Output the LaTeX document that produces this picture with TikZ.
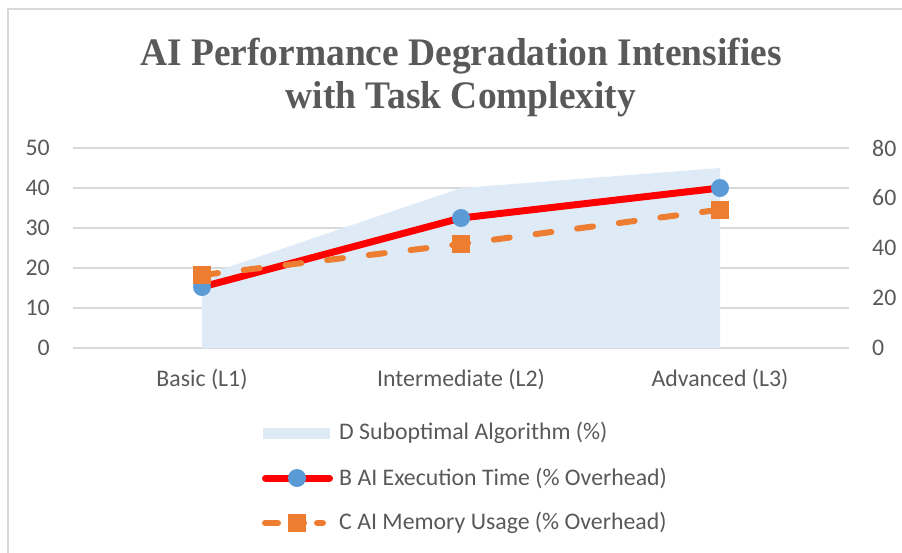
\documentclass[tikz,border=0pt]{standalone}
\usepackage{fontspec}
\newfontfamily\chartfont{Carlito}
\newfontfamily\headfont{Liberation Serif}
\usetikzlibrary{positioning}
\definecolor{txtgray}{HTML}{595959}
\definecolor{gridgray}{HTML}{D9D9D9}
\definecolor{areablue}{HTML}{DEEBF7}
\definecolor{markblue}{HTML}{5B9BD5}
\definecolor{memorange}{HTML}{ED7D31}

\begin{document}
\begin{tikzpicture}[
  x=1pt, y=-1pt,
  tick/.style={font=\chartfont\fontsize{23.8}{28}\selectfont, text=txtgray, inner sep=0pt},
  headline/.style={font=\headfont\bfseries\fontsize{39}{43}\selectfont, text=txtgray, inner sep=0pt, anchor=base},
  gridline/.style={gridgray, line width=1.5pt},
  execline/.style={red, line width=7pt, line join=round},
  memline/.style={memorange, line width=6pt, line cap=round, dash pattern=on 16pt off 26pt},
  dot/.style={circle, fill=markblue, minimum size=18pt, inner sep=0pt},
  sqmark/.style={rectangle, fill=memorange, minimum size=18pt, inner sep=0pt},
  legtext/.style={tick, anchor=west}
]
  \useasboundingbox (0,0) rectangle (902,552);

  % Frame
  \draw[gridgray, line width=2pt] (8,556) -- (8,9) -- (906,9);

  % Title
  \node[headline] (title1) at (461,65) {\scalebox{0.96}[1]{AI Performance Degradation Intensifies}};
  \node[headline] (title2) at (461,108) {\scalebox{0.96}[1]{with Task Complexity}};

  % Axes and grid
  \foreach \v [count=\i from 0] in {0,10,...,50} {
    \draw[gridline] (73,{348-4*\v}) -- (849,{348-4*\v});
    \node[tick, anchor=east] (yl\i) at (50,{348-4*\v}) {\v};
  }
  \foreach \v [count=\i from 0] in {0,20,...,80}
    \node[tick, anchor=west] (yr\i) at (872,{348-2.5*\v}) {\v};

  \node[tick, anchor=base] (catA) at (202,386) {Basic (L1)};
  \node[tick, anchor=base] (catB) at (461,386) {Intermediate (L2)};
  \node[tick, anchor=base] (catC) at (720,386) {Advanced (L3)};

  % Data (left axis units)
  \begin{scope}[shift={(0,348)}, y=4pt]
    \coordinate (d1) at (202,18);
    \coordinate (d2) at (461,40);
    \coordinate (d3) at (720,45);
    \coordinate (b1) at (202,15.25);
    \coordinate (b2) at (461,32.5);
    \coordinate (b3) at (720,40);
    \coordinate (c1) at (202,18.25);
    \coordinate (c2) at (461,26);
    \coordinate (c3) at (720,34.6);
    \coordinate (z1) at (202,0);
    \coordinate (z3) at (720,0);
  \end{scope}

  \fill[areablue] (z1) -- (d1) -- (d2) -- (d3) -- (z3) -- cycle;
  \draw[execline] (b1) -- (b2) -- (b3);
  \foreach \p in {b1,b2,b3}
    \node[dot] (m\p) at (\p) {};
  \draw[memline] (c1) -- (c2) -- (c3);
  \foreach \p in {c1,c2,c3}
    \node[sqmark] (m\p) at (\p) {};

  % Legend
  \node[legtext] (legD) at (339,433) {D Suboptimal Algorithm (\%)};
  \node[legtext, below=45pt of legD.west, anchor=west] (legB) {B AI Execution Time (\% Overhead)};
  \node[legtext, below=45pt of legB.west, anchor=west] (legC) {C AI Memory Usage (\% Overhead)};

  \node[fill=areablue, minimum width=67pt, minimum height=11pt, inner sep=0pt, left=9pt of legD] (keyD) {};
  \draw[execline, line cap=round] ([xshift=-73.5pt]legB.west) -- ([xshift=-9.5pt]legB.west);
  \node[dot] (keyB) at ([xshift=-42pt]legB.west) {};
  \draw[memline, dash pattern=on 13pt off 13pt] ([xshift=-74pt]legC.west) -- ([xshift=-16pt]legC.west);
  \node[sqmark] (keyC) at ([xshift=-42pt]legC.west) {};
\end{tikzpicture}
\end{document}
